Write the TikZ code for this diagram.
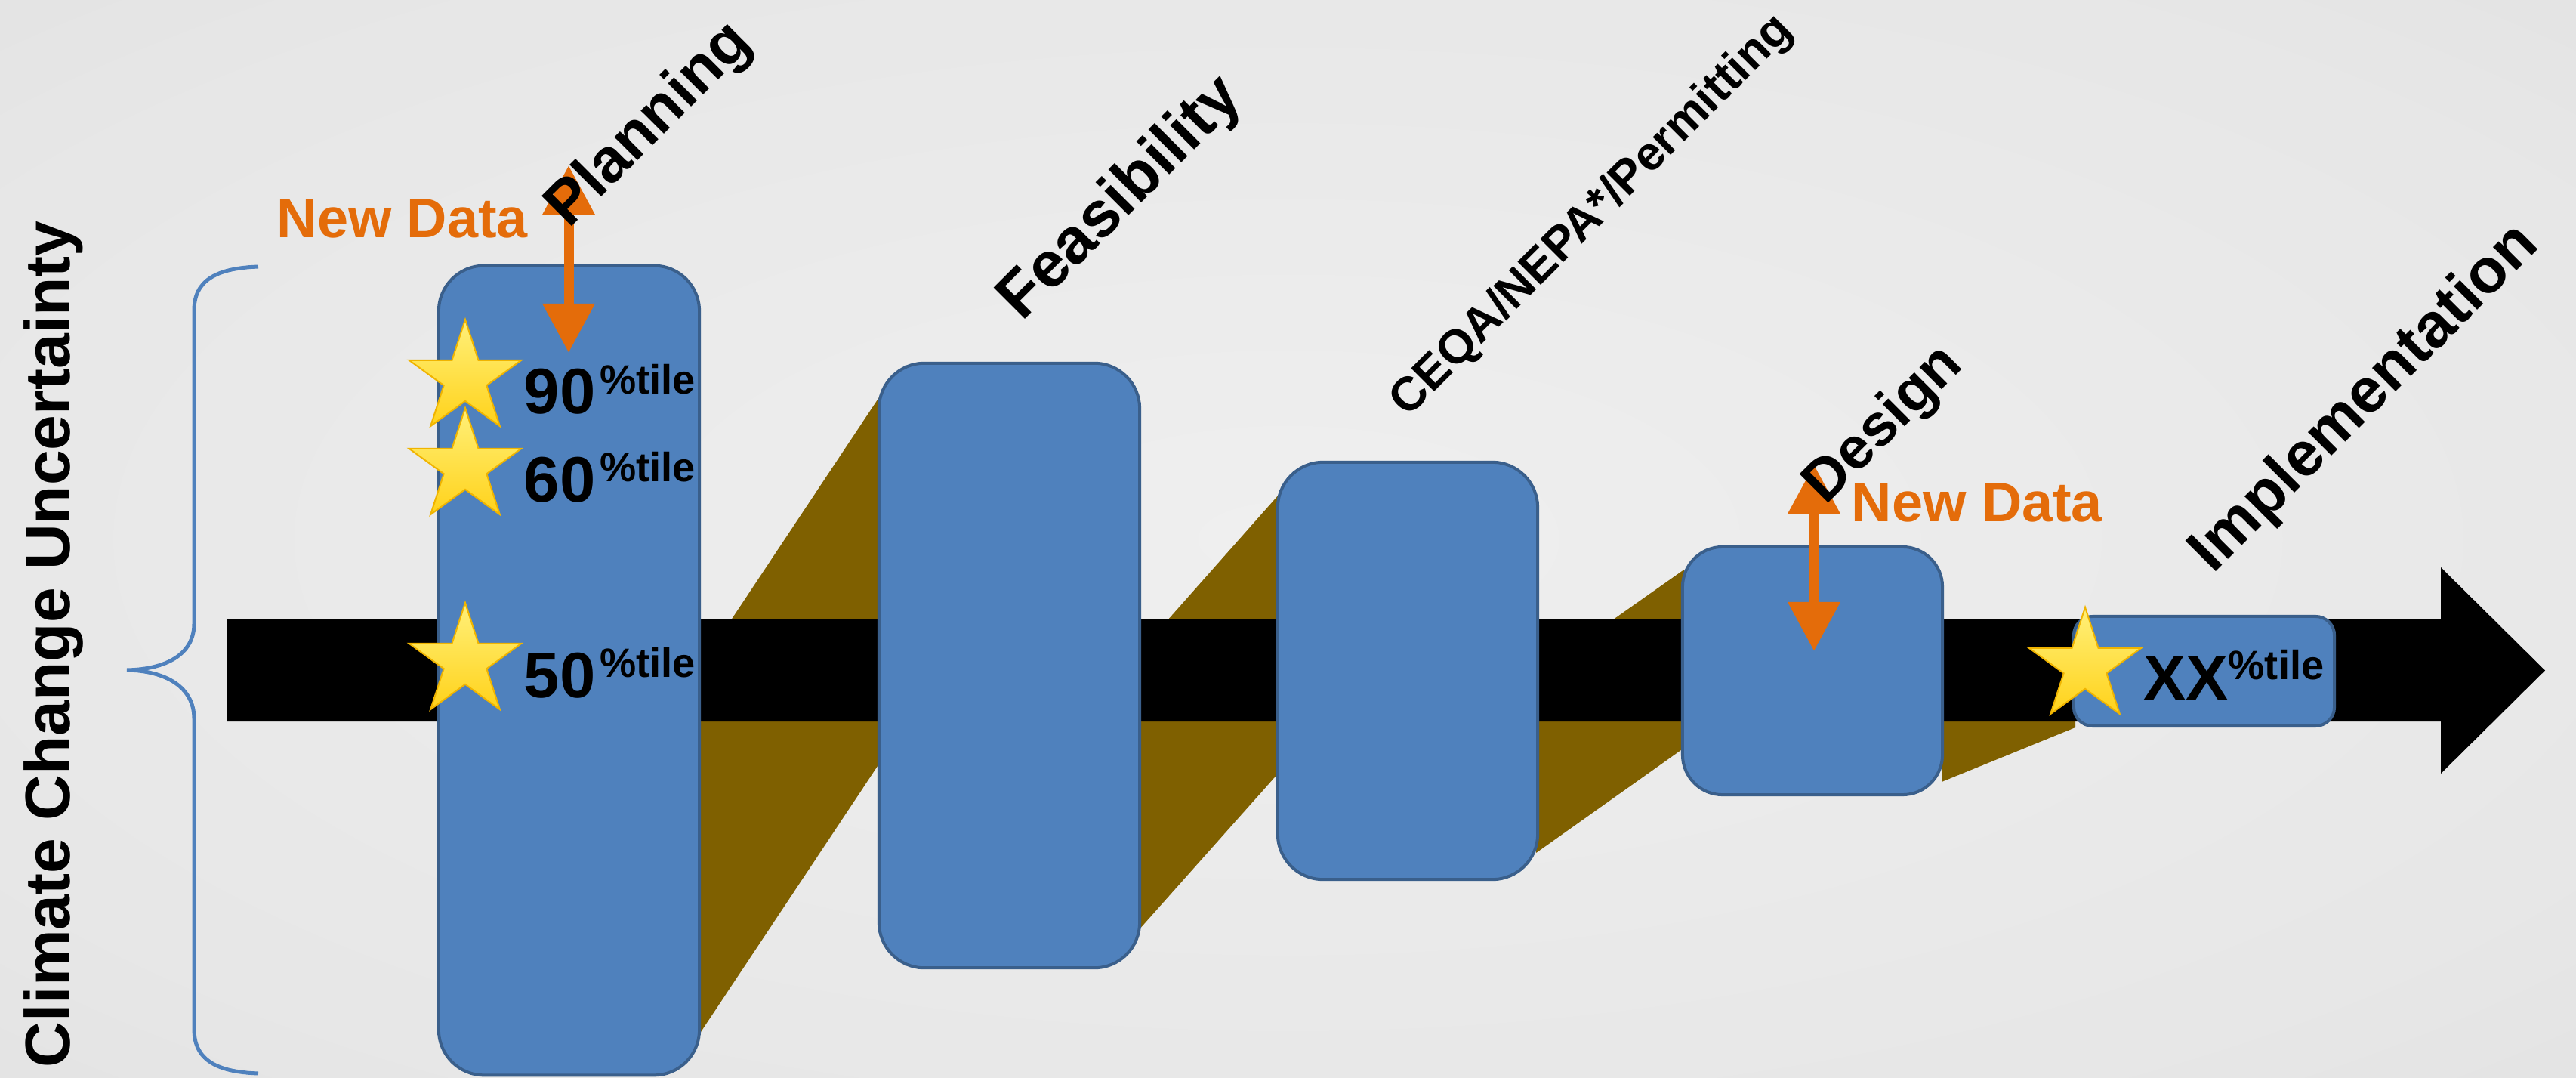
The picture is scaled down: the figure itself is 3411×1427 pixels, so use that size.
\documentclass[tikz,border=0pt]{standalone}
\usepackage{fontspec}
\setmainfont{Liberation Sans}
\usetikzlibrary{shapes.geometric,arrows.meta}
\definecolor{bgin}{HTML}{EFEFEF}
\definecolor{bgout}{HTML}{DCDCDC}
\definecolor{boxfill}{HTML}{4F81BD}
\definecolor{boxline}{HTML}{3A5F8B}
\definecolor{olive}{HTML}{7F6000}
\definecolor{orng}{HTML}{E46C0A}
\definecolor{startop}{HTML}{FFF07A}
\definecolor{starbot}{HTML}{FFD21A}
\definecolor{starline}{HTML}{F0B400}
\newcommand{\fsz}[1]{\fontsize{#1}{#1}\selectfont}
\pgfdeclareradialshading{bgshade}{\pgfpoint{0bp}{0bp}}{color(0bp)=(bgin); color(30bp)=(bgin!55!bgout); color(50bp)=(bgout)}
\begin{document}
\begin{tikzpicture}[x=0.01cm,y=-0.01cm,
  stagebox/.style={draw=boxline, line width=0.04cm, fill=boxfill, inner sep=0, minimum width=3.45cm},
  funnel/.style={fill=olive},
  starsym/.style={star, star points=5, star point ratio=2.618, minimum size=1.56cm, inner sep=0, draw=starline, line width=0.02cm, top color=startop, bottom color=starbot},
  phase/.style={anchor=base west, rotate=45, inner sep=0},
  pct/.style={anchor=base west, inner sep=0, font=\bfseries},
  newdata/.style={anchor=base west, inner sep=0, text=orng, font=\bfseries\fsz{21pt}},
  dataarrow/.style={draw=orng, line width=0.13cm, {Triangle[length=0.65cm,width=0.66cm]}-{Triangle[length=0.65cm,width=0.66cm]}},
  bracestyle/.style={draw=boxfill, line width=0.05cm}
]
\useasboundingbox (0,0) rectangle (3411,1427);
% background
\shade[shading=bgshade] (0,0) rectangle (3411,1427);

% olive funnels
\fill[funnel] (924,887) -- (1166,523) -- (1166,1008) -- (924,1372) -- cycle;
\fill[funnel] (1507,865) -- (1694,654) -- (1694,1022) -- (1507,1232) -- cycle;
\fill[funnel] (2034,892) -- (2230,754) -- (2230,990) -- (2034,1129) -- cycle;
\fill[funnel] (2571,905) -- (2748,833) -- (2748,963) -- (2571,1035) -- cycle;

% main black arrow
\fill[black] (300,820) -- (3232,820) -- (3232,751) -- (3370,887.5) -- (3232,1024) -- (3232,955) -- (300,955) -- cycle;

% brace
\draw[bracestyle] (342,353) .. controls (285,355) and (257,372) .. (257,411) -- (257,826)
  .. controls (257,866) and (220,886) .. (168,887)
  .. controls (220,888) and (257,910) .. (257,951) -- (257,1362)
  .. controls (257,1402) and (285,1419) .. (342,1421);

% stage boxes
\node[stagebox, rounded corners=0.6cm, minimum height=10.71cm] (plan) at (753.5,887.5) {};
\node[stagebox, rounded corners=0.6cm, minimum height=8.00cm] (feas) at (1336.5,881) {};
\node[stagebox, rounded corners=0.6cm, minimum height=5.52cm, minimum width=3.44cm] (ceqa) at (1864,888) {};
\node[stagebox, rounded corners=0.53cm, minimum height=3.28cm, minimum width=3.44cm] (desg) at (2400,888) {};
\node[stagebox, rounded corners=0.25cm, minimum height=1.45cm] (impl) at (2918.5,888.5) {};

% new data arrows
\coordinate (nd1a) at (753,219);
\coordinate (nd1b) at (753,467);
\draw[dataarrow] (nd1a) -- (nd1b);
\coordinate (nd2a) at (2402,615);
\coordinate (nd2b) at (2402,862);
\draw[dataarrow] (nd2a) -- (nd2b);

% stars
\node[starsym] (s90) at (616,501) {};
\node[starsym] (s60) at (616,618) {};
\node[starsym] (s50) at (616,876) {};
\node[starsym] (sxx) at (2761,882) {};

% percentile labels
\node[pct] (p90) at (693,547) {\fsz{24.2pt}90\kern0.06cm\raisebox{0.25cm}{\fsz{15.4pt}\%tile}};
\node[pct] (p60) at (693,664) {\fsz{24.2pt}60\kern0.06cm\raisebox{0.26cm}{\fsz{15.4pt}\%tile}};
\node[pct] (p50) at (693,923) {\fsz{24.2pt}50\kern0.06cm\raisebox{0.26cm}{\fsz{15.4pt}\%tile}};
\node[pct] (pxx) at (2838,926) {\fsz{23.9pt}XX\raisebox{0.26cm}{\fsz{15.4pt}\%tile}};

% new data labels
\node[newdata] (ndt1) at (366,314) {New Data};
\node[newdata] (ndt2) at (2451,690) {New Data};

% phase labels
\node[phase, font=\bfseries\fsz{23.3pt}] (lplan) at (753,304) {Planning};
\node[phase, font=\bfseries\fsz{24.2pt}] (lfeas) at (1353,427) {Feasibility};
\node[phase, font=\bfseries\fsz{17.9pt}] (lceqa) at (1864,554) {CEQA/NEPA*/Permitting};
\node[phase, font=\bfseries\fsz{22.2pt}] (ldesg) at (2417,670) {Design};
\node[phase, font=\bfseries\fsz{23.6pt}] (limpl) at (2930,761) {Implementation};

% axis label
\node[anchor=base west, rotate=90, inner sep=0, font=\bfseries\fsz{23.9pt}] (unc) at (92,1414) {Climate Change Uncertainty};
\end{tikzpicture}
\end{document}
